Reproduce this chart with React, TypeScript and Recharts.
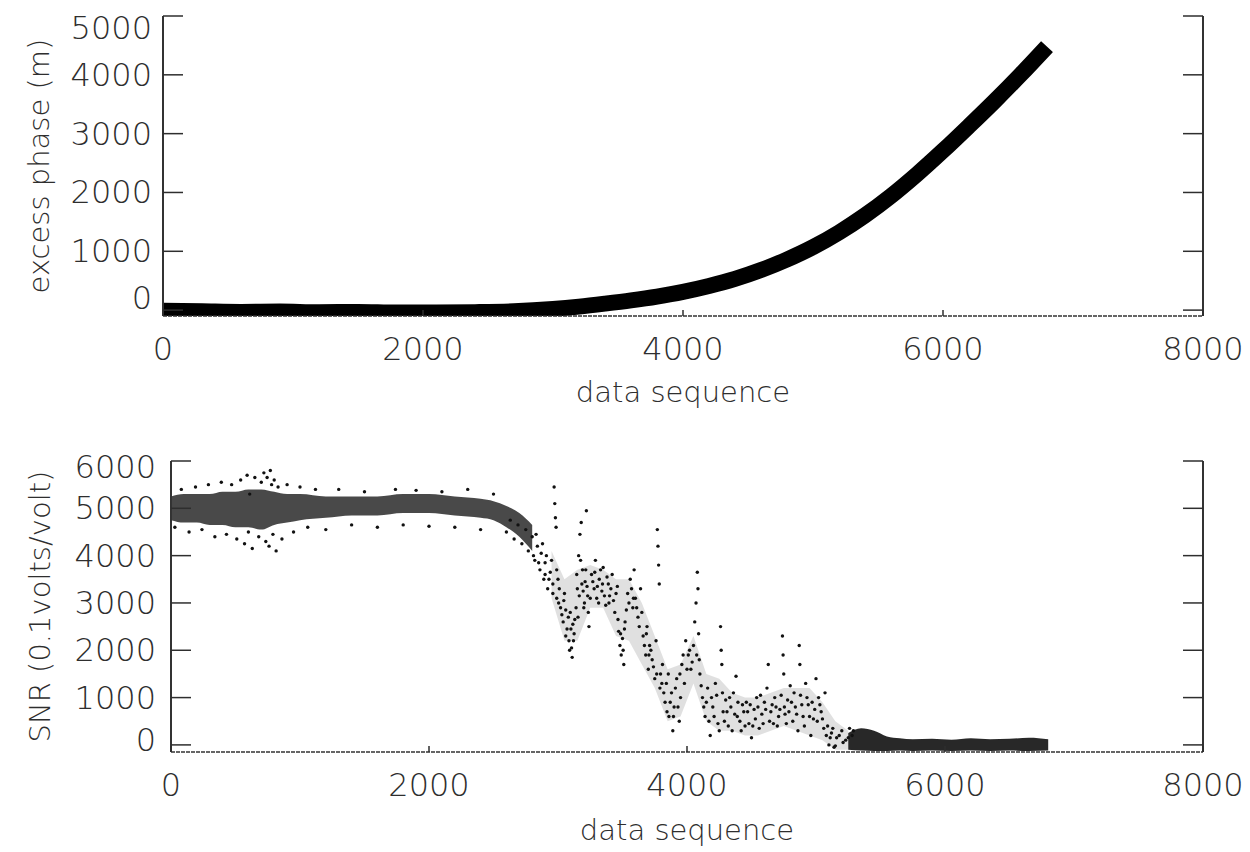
import React from 'react';
import { ComposedChart, Line, Area, Scatter, XAxis, YAxis, Label } from 'recharts';

const FONT = '"DejaVu Sans", "Liberation Sans", sans-serif';
const INK = '#2e2e2e';

// shared x axis
const seqTicks = [0, 2000, 4000, 6000, 8000];

// top panel: excess phase (m)
const phaseTicks = [0, 1000, 2000, 3000, 4000, 5000];
const phaseSeq = [0, 300, 600, 900, 1200, 1500, 1800, 2100, 2400, 2700, 3000, 3200, 3400, 3600, 3800, 4000, 4200, 4400, 4600, 4800, 5000, 5200, 5400, 5600, 5800, 6000, 6200, 6400, 6600, 6800];
const phaseVals = [-10, -20, -30, -25, -35, -30, -40, -40, -35, -20, 20, 60, 110, 165, 230, 310, 410, 530, 680, 860, 1070, 1320, 1610, 1940, 2310, 2710, 3130, 3560, 4010, 4480];

// bottom panel: SNR (0.1 volts/volt)
const snrTicks = [0, 1000, 2000, 3000, 4000, 5000, 6000];
const plateauSeq = [0, 100, 200, 300, 400, 500, 600, 700, 800, 900, 1000, 1200, 1400, 1600, 1800, 2000, 2200, 2400, 2500, 2600, 2700, 2800, 2870];
const plateauLow = [4750, 4700, 4700, 4650, 4650, 4600, 4600, 4550, 4650, 4700, 4750, 4800, 4850, 4850, 4900, 4900, 4850, 4800, 4750, 4600, 4400, 4100, 3800];
const plateauHigh = [5250, 5300, 5300, 5300, 5350, 5350, 5400, 5400, 5350, 5300, 5300, 5250, 5250, 5250, 5300, 5300, 5250, 5200, 5150, 5050, 4900, 4650, 4400];
const cloudSeq = [2850, 2950, 3050, 3150, 3250, 3350, 3450, 3550, 3650, 3750, 3850, 3950, 4050, 4150, 4250, 4350, 4450, 4550, 4650, 4750, 4850, 4950, 5050, 5150, 5250];
const cloudLow = [3700, 3100, 2200, 2200, 2900, 2900, 2300, 2200, 1700, 1200, 500, 600, 1300, 500, 300, 300, 200, 200, 300, 400, 300, 200, 100, -100, -100];
const cloudHigh = [4500, 4100, 3500, 3700, 3800, 3700, 3500, 3500, 3000, 2300, 1600, 1700, 2300, 1500, 1400, 1100, 1000, 1000, 1100, 1200, 1200, 1200, 900, 500, 300];
const floorSeq = [5250, 5350, 5450, 5550, 5650, 5750, 5900, 6050, 6200, 6350, 6500, 6650, 6800];
const floorLow = [-100, -120, -130, -130, -120, -130, -120, -130, -120, -130, -120, -130, -120];
const floorHigh = [250, 350, 300, 180, 140, 120, 130, 110, 140, 120, 130, 150, 120];

const plateauStray: [number, number][] = [
  [30, 4600], [80, 5400], [140, 4500], [190, 5450], [240, 4550], [290, 5500], [340, 4400], [390, 5550],
  [430, 4450], [470, 5500], [510, 4350], [540, 5600], [570, 4250], [590, 5700], [600, 4500], [610, 5300],
  [630, 4150], [650, 5650], [680, 4400], [700, 5550], [720, 5750], [735, 4300], [745, 5650], [760, 4200],
  [770, 5800], [780, 5500], [790, 4450], [800, 5600], [815, 4100], [830, 5450], [860, 4350], [900, 5500],
  [950, 4500], [1000, 5450], [1060, 4600], [1120, 5400], [1200, 4550], [1300, 5400], [1400, 4650], [1500, 5350],
  [1600, 4600], [1740, 5400], [1800, 4650], [1900, 5380], [2000, 4620], [2100, 5350], [2200, 4600], [2300, 5400],
  [2400, 4550], [2500, 5300],
];
const dropA: [number, number][] = [
  [2600, 4500], [2630, 4750], [2660, 4350], [2690, 4650], [2720, 4250], [2750, 4550], [2770, 4100], [2800, 4400],
  [2820, 3900], [2840, 4200], [2860, 3700], [2870, 4050], [2890, 3500], [2900, 3850], [2920, 3300], [2940, 3650],
  [2960, 3400], [2970, 5450], [2975, 5100], [2980, 4800], [2985, 4600], [2990, 3100], [3000, 3500], [3020, 2900],
  [3040, 2600], [3050, 3200], [3060, 2300], [3080, 2700], [3090, 2000], [3100, 2450], [3110, 1850], [3120, 2200],
  [3130, 2650], [3150, 3300], [3160, 4000], [3170, 4450], [3180, 4700], [3190, 3700], [3200, 2900], [3210, 3450],
  [3220, 4950], [3230, 3150], [3240, 2500],
];
const dropB: [number, number][] = [
  [3260, 3600], [3280, 3300], [3290, 3900], [3300, 3100], [3320, 3500], [3340, 3250], [3350, 3750], [3370, 2950],
  [3390, 3400], [3400, 3150], [3420, 3600], [3440, 2800], [3460, 3350], [3470, 2400], [3480, 2100], [3490, 1900],
  [3500, 2250], [3510, 1700], [3520, 2600], [3540, 3200], [3560, 3500], [3580, 2900], [3590, 3700], [3600, 3100],
  [3620, 2700], [3640, 3300], [3660, 2300], [3680, 1900], [3690, 2500], [3700, 1600], [3710, 2100], [3730, 1800],
  [3750, 1400], [3760, 2200], [3770, 4550], [3775, 4200], [3780, 3800], [3785, 3400], [3790, 1200],
];
const dropC: [number, number][] = [
  [2810, 4000], [2830, 4450], [2850, 3850], [2880, 4250], [2900, 3600], [2910, 4000], [2930, 3500], [2950, 3900],
  [2960, 3200], [2990, 3700], [3005, 3000], [3010, 3300], [3030, 2750], [3045, 3050], [3060, 2850], [3070, 2450],
  [3085, 2200], [3095, 2800], [3105, 2050], [3115, 2550], [3125, 2350], [3140, 2900], [3145, 3600], [3155, 2700],
  [3165, 3150], [3175, 3900], [3185, 3400], [3195, 3250], [3205, 3000], [3215, 3700], [3225, 3350], [3235, 2800],
  [3250, 3100], [3270, 3450], [3285, 3650], [3305, 3350], [3315, 3000], [3330, 3700], [3345, 3400], [3360, 3150],
  [3380, 3550], [3395, 3000], [3410, 3300], [3430, 3050], [3450, 3200], [3465, 2650], [3485, 2350], [3505, 2000],
  [3515, 2450], [3530, 2850], [3550, 3000], [3570, 3300], [3585, 3100], [3610, 2900], [3630, 2500], [3650, 2800],
  [3670, 2100], [3685, 2350], [3705, 1900], [3720, 2000], [3740, 1650], [3765, 1500], [3795, 1500],
];
const tailA: [number, number][] = [
  [3810, 1700], [3830, 900], [3840, 1300], [3860, 600], [3880, 1100], [3890, 300], [3900, 800], [3920, 1400],
  [3940, 500], [3950, 1000], [3970, 1900], [3990, 2200], [4000, 1600], [4020, 2000], [4040, 1750], [4060, 2600],
  [4070, 3000], [4080, 3650], [4085, 3300], [4090, 2350], [4100, 1500], [4120, 1000], [4140, 600], [4160, 1200],
  [4180, 200], [4200, 800], [4220, 1300], [4240, 450], [4260, 2500], [4265, 2000], [4270, 1700], [4280, 700],
  [4300, 950], [4320, 400], [4340, 800], [4360, 1100], [4380, 1450], [4390, 600],
];
const tailB: [number, number][] = [
  [4420, 300], [4440, 700], [4460, 900], [4480, 450], [4500, 150], [4520, 750], [4540, 1000], [4560, 350],
  [4580, 650], [4600, 900], [4620, 1200], [4630, 1700], [4640, 500], [4660, 850], [4680, 1000], [4700, 400],
  [4720, 750], [4740, 2300], [4745, 1900], [4750, 1500], [4760, 650], [4780, 950], [4800, 1250], [4820, 500],
  [4840, 800], [4860, 300], [4870, 2100], [4875, 1700], [4880, 1050], [4900, 600], [4920, 1300], [4940, 850],
  [4960, 200], [4980, 550], [5000, 1400], [5020, 1000], [5040, 700], [5060, 350], [5080, 200], [5100, 0],
  [5120, 250], [5140, -50], [5160, 150], [5200, 300], [5230, 100], [5260, 350], [5280, 200],
];
const tailC: [number, number][] = [
  [3805, 1300], [3820, 1100], [3845, 700], [3855, 1500], [3870, 900], [3895, 600], [3910, 1200], [3930, 800],
  [3945, 1500], [3960, 1700], [3980, 1300], [4010, 1900], [4030, 1600], [4050, 2100], [4075, 1900], [4095, 1800],
  [4110, 1250], [4130, 800], [4150, 900], [4170, 500], [4190, 1000], [4210, 600], [4230, 1050], [4250, 300],
  [4275, 1100], [4290, 500], [4310, 700], [4330, 1000], [4350, 300], [4370, 650], [4395, 900], [4410, 500],
  [4430, 850], [4450, 400], [4470, 700], [4490, 850], [4510, 400], [4530, 550], [4550, 800], [4570, 1050],
  [4590, 450], [4610, 750], [4650, 700], [4670, 450], [4690, 800], [4710, 600], [4730, 1050], [4755, 800],
  [4770, 450], [4790, 700], [4810, 900], [4830, 1100], [4850, 650], [4890, 850], [4910, 400], [4930, 1000],
  [4950, 600], [4970, 900], [4990, 750], [5010, 500], [5030, 850], [5050, 550], [5070, 1100], [5090, 400],
  [5110, 150], [5130, 350], [5150, -20], [5180, 200], [5210, 50], [5250, 150], [5290, 300],
];

const phaseData = phaseSeq.map((x, i) => ({ x, phase: phaseVals[i] }));
const bandData = [
  ...plateauSeq.map((x, i) => ({ x, plateau: [plateauLow[i], plateauHigh[i]] })),
  ...cloudSeq.map((x, i) => ({ x, cloud: [cloudLow[i], cloudHigh[i]] })),
  ...floorSeq.map((x, i) => ({ x, floor: [floorLow[i], floorHigh[i]] })),
].sort((a, b) => a.x - b.x);
const snrDots = [...plateauStray, ...dropA, ...dropB, ...dropC, ...tailA, ...tailB, ...tailC].map(([x, y]) => ({ x, y }));

const textStyle = { fontFamily: FONT, fill: INK, fontWeight: 300 } as const;

const LeftTick = ({ x, y, payload, gap, shift }: any) => (
  <g>
    <line x1={x} x2={x + 20} y1={y} y2={y} stroke={INK} strokeWidth={1.5} />
    <text x={x - gap} y={y + (shift[payload.value] || 0)} textAnchor="end" dominantBaseline="central" fontSize={32} {...textStyle}>
      {payload.value}
    </text>
  </g>
);

const RightTick = ({ x, y }: any) => <line x1={x} x2={x - 20} y1={y} y2={y} stroke={INK} strokeWidth={1.5} />;

const BottomTick = ({ x, y, payload }: any) => (
  <g>
    <line x1={x} x2={x} y1={y} y2={y - 6} stroke={INK} strokeWidth={1.5} />
    <text x={x} y={y + 33} textAnchor="middle" dominantBaseline="central" fontSize={32} {...textStyle}>
      {payload.value}
    </text>
  </g>
);

const TopTick = ({ x, y }: any) => <line x1={x} x2={x} y1={y} y2={y + 6} stroke={INK} strokeWidth={1.5} />;

const sideLine = { stroke: '#333', strokeWidth: 2 };
const flatLine = { stroke: '#333', strokeWidth: 1.5, strokeDasharray: '4 1' };

const YTitle = ({ viewBox, value, dx }: any) => {
  const cx = dx;
  const cy = viewBox.y + viewBox.height / 2;
  return (
    <text x={cx} y={cy} transform={`rotate(-90, ${cx}, ${cy})`} textAnchor="middle" dominantBaseline="central" fontSize={29} {...textStyle}>
      {value}
    </text>
  );
};

const XTitle = ({ viewBox, dy }: any) => (
  <text x={viewBox.x + viewBox.width / 2} y={viewBox.y + dy} textAnchor="middle" dominantBaseline="central" fontSize={29} {...textStyle}>
    data sequence
  </text>
);

const Dot = (p: any) => <circle cx={p.cx} cy={p.cy} r={1.7} fill="#111" />;

export default function App() {
  return (
    <div style={{ position: 'absolute', left: 0, top: 0, width: 1250, height: 852, background: '#fff' }}>
      <div style={{ position: 'absolute', left: 0, top: 0 }}>
        <ComposedChart width={1250} height={440} data={phaseData} margin={{ top: 16, right: 46, bottom: 0, left: 0 }}>
          <XAxis xAxisId="b" dataKey="x" type="number" domain={[0, 8000]} ticks={seqTicks} allowDataOverflow
            height={124} tickSize={0} tickMargin={0} axisLine={flatLine} tickLine={false}
            tick={(p: any) => <BottomTick {...p} />}>
            <Label content={(p: any) => <XTitle {...p} dy={76} />} />
          </XAxis>
          <XAxis xAxisId="t" orientation="top" type="number" domain={[0, 8000]} ticks={seqTicks} allowDataOverflow
            height={0} tickSize={0} tickMargin={0} axisLine={flatLine} tickLine={false}
            tick={(p: any) => <TopTick {...p} />} />
          <YAxis yAxisId="l" type="number" domain={[-100, 5000]} ticks={phaseTicks} allowDataOverflow
            width={163} tickSize={0} tickMargin={0} axisLine={sideLine} tickLine={false}
            tick={(p: any) => <LeftTick {...p} gap={11} shift={{ 0: -12, 5000: 12 }} />}>
            <Label content={(p: any) => <YTitle {...p} value="excess phase (m)" dx={39} />} />
          </YAxis>
          <YAxis yAxisId="r" orientation="right" type="number" domain={[-100, 5000]} ticks={phaseTicks} allowDataOverflow
            width={1} tickSize={0} tickMargin={0} axisLine={sideLine} tickLine={false}
            tick={(p: any) => <RightTick {...p} />} />
          <Line xAxisId="b" yAxisId="l" type="monotone" dataKey="phase" stroke="#000" strokeWidth={16}
            dot={false} isAnimationActive={false} />
        </ComposedChart>
      </div>
      <div style={{ position: 'absolute', left: 0, top: 440 }}>
        <ComposedChart width={1250} height={412} data={bandData} margin={{ top: 21, right: 46, bottom: 0, left: 0 }}>
          <XAxis xAxisId="b" dataKey="x" type="number" domain={[0, 8000]} ticks={seqTicks} allowDataOverflow
            height={100} tickSize={0} tickMargin={0} axisLine={flatLine} tickLine={false}
            tick={(p: any) => <BottomTick {...p} />}>
            <Label content={(p: any) => <XTitle {...p} dy={78} />} />
          </XAxis>
          <XAxis xAxisId="t" orientation="top" type="number" domain={[0, 8000]} ticks={seqTicks} allowDataOverflow
            height={0} tickSize={0} tickMargin={0} axisLine={flatLine} tickLine={false}
            tick={(p: any) => <TopTick {...p} />} />
          <YAxis yAxisId="l" dataKey="y" type="number" domain={[-150, 6000]} ticks={snrTicks} allowDataOverflow
            width={171} tickSize={0} tickMargin={0} axisLine={sideLine} tickLine={false}
            tick={(p: any) => <LeftTick {...p} gap={15} shift={{ 0: -5, 6000: 6 }} />}>
            <Label content={(p: any) => <YTitle {...p} value="SNR (0.1volts/volt)" dx={40} />} />
          </YAxis>
          <YAxis yAxisId="r" orientation="right" type="number" domain={[-150, 6000]} ticks={snrTicks} allowDataOverflow
            width={1} tickSize={0} tickMargin={0} axisLine={sideLine} tickLine={false}
            tick={(p: any) => <RightTick {...p} />} />
          <Area xAxisId="b" yAxisId="l" type="monotone" dataKey="plateau" stroke="none" fill="#1c1c1c" fillOpacity={0.8}
            isAnimationActive={false} />
          <Area xAxisId="b" yAxisId="l" type="linear" dataKey="cloud" stroke="none" fill="#000" fillOpacity={0.12}
            isAnimationActive={false} />
          <Area xAxisId="b" yAxisId="l" type="monotone" dataKey="floor" stroke="none" fill="#111" fillOpacity={0.9}
            isAnimationActive={false} />
          <Scatter xAxisId="b" yAxisId="l" data={snrDots} dataKey="y" shape={Dot} isAnimationActive={false} />
        </ComposedChart>
      </div>
    </div>
  );
}
